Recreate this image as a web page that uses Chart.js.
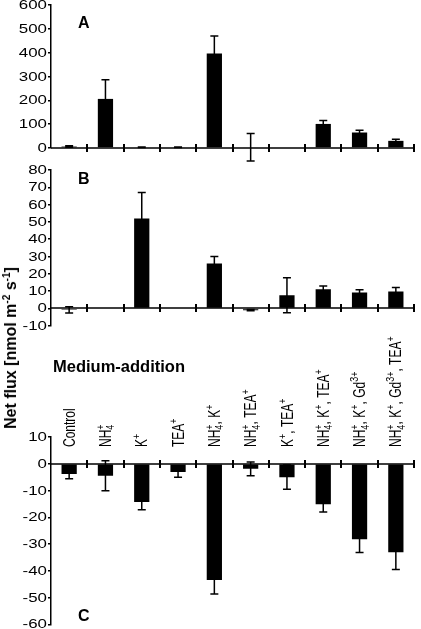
<!DOCTYPE html>
<html>
<head>
<meta charset="utf-8">
<script src="https://cdn.jsdelivr.net/npm/chart.js@4.4.1/dist/chart.umd.min.js"></script>
<style>
  html, body { margin: 0; padding: 0; background: #fff; overflow: hidden; }
  body { width: 421px; height: 629px; position: relative; font-family: "Liberation Sans", Arial, sans-serif; }
  canvas { position: absolute; left: 0; }
  .lbl { position: absolute; font-weight: bold; font-size: 16px; line-height: 16px; white-space: nowrap; color: #000; }
  .ytitle { left: 11px; top: 348px; transform: translate(-50%, -50%) rotate(-90deg); }
  .ytitle sup { font-size: 10px; vertical-align: 6px; line-height: 0; }
</style>
</head>
<body>
<canvas id="chartA" width="421" height="180" style="top:-10px"></canvas>
<canvas id="chartB" width="421" height="190" style="top:155px"></canvas>
<canvas id="chartC" width="421" height="310" style="top:330px"></canvas>

<div class="lbl" style="left:78px;top:15px">A</div>
<div class="lbl" style="left:78px;top:171px">B</div>
<div class="lbl" style="left:78px;top:608px">C</div>
<div class="lbl" style="left:53px;top:358px;font-size:16.5px">Medium-addition</div>
<div class="lbl ytitle">Net flux [nmol m<sup>-2</sup> s<sup>-1</sup>]</div>

<script>
// categories: "_x" = subscript, "^x" or "^{..}" = superscript
const categories = ['Control', 'NH_4^+', 'K^+', 'TEA^+', 'NH_4^+, K^+', 'NH_4^+, TEA^+',
  'K^+, TEA^+', 'NH_4^+, K^+, TEA^+', 'NH_4^+, K^+, Gd^{3+}', 'NH_4^+, K^+, Gd^{3+}, TEA^+'];

// panel A
const fluxA = [6, 206, 3, 3, 397, 3, 0, 101, 65, 30];
const errA = [3, 80, 1, 1, 73, 58, 0, 14, 10, 7];
const yAxisA = [0, 600, 100];   // min, max, step

// panel B
const fluxB = [-0.8, -0.5, 52, 0.4, 26, -1, 7.6, 11, 9.2, 9.8];
const errB = [1.8, 0, 15, 0, 4, 0.4, 10.1, 2, 1.6, 2.3];
const yAxisB = [-10, 80, 10];

// panel C
const fluxC = [-3.8, -4.5, -14.3, -3.1, -43.4, -1.9, -5.0, -15.1, -28.2, -33.1];
const errC = [1.8, 5.6, 2.9, 1.9, 5.3, 2.6, 4.5, 2.9, 5.0, 6.4];
const yAxisC = [-60, 10, 10];

const FONT = '"Liberation Sans", Arial, sans-serif';

function parseLabel(s) {
  const parts = [];
  const re = /_(\{[^}]*\}|.)|\^(\{[^}]*\}|.)|[^_^]+/g;
  let m;
  while ((m = re.exec(s))) {
    if (m[1]) parts.push({ text: m[1].replace(/[{}]/g, ''), kind: 'sub' });
    else if (m[2]) parts.push({ text: m[2].replace(/[{}]/g, ''), kind: 'sup' });
    else parts.push({ text: m[0], kind: 'n' });
  }
  return parts;
}

function drawRich(ctx, parts, size) {
  const small = Math.round(size * 0.72);
  const base = size * 0.36;
  let x = 0, subStart = null, subW = 0;
  parts.forEach(p => {
    if (p.kind === 'n') {
      ctx.font = `${size}px ${FONT}`;
      ctx.fillText(p.text, x, base);
      x += ctx.measureText(p.text).width;
      subStart = null;
    } else if (p.kind === 'sub') {
      ctx.font = `${small}px ${FONT}`;
      ctx.fillText(p.text, x, base + size * 0.22);
      subStart = x;
      subW = ctx.measureText(p.text).width;
      x += subW;
    } else {
      ctx.font = `${small}px ${FONT}`;
      const w = ctx.measureText(p.text).width;
      const sx = subStart !== null ? subStart : x;
      ctx.fillText(p.text, sx, base - size * 0.45);
      x = subStart !== null ? sx + Math.max(w, subW) : x + w;
      subStart = null;
    }
  });
}

// error bars, zero line with category ticks, y tick labels
const panelDecor = {
  id: 'panelDecor',
  afterDatasetsDraw(chart) {
    const { ctx, scales: { y } } = chart;
    const ds = chart.data.datasets[0];
    const meta = chart.getDatasetMeta(0);
    ctx.save();
    ctx.strokeStyle = '#000';
    ctx.lineWidth = 1.5;
    meta.data.forEach((bar, i) => {
      const e = ds.errors[i];
      if (!e) return;
      const v = ds.data[i];
      const yHi = y.getPixelForValue(v + e);
      const yLo = y.getPixelForValue(v - e);
      ctx.beginPath();
      ctx.moveTo(bar.x, yHi); ctx.lineTo(bar.x, yLo);
      ctx.moveTo(bar.x - 4, yHi); ctx.lineTo(bar.x + 4, yHi);
      ctx.moveTo(bar.x - 4, yLo); ctx.lineTo(bar.x + 4, yLo);
      ctx.stroke();
    });
    ctx.restore();
  },
  afterDraw(chart) {
    const { ctx, chartArea, scales: { x, y } } = chart;
    ctx.save();
    // zero line with tick marks between categories
    const y0 = Math.round(y.getPixelForValue(0));
    ctx.fillStyle = '#000';
    ctx.fillRect(chartArea.left, y0 - 0.75, chartArea.right - chartArea.left, 1.5);
    for (let i = 1; i <= categories.length; i++) {
      const xb = Math.round(x.getPixelForValue(i - 0.5));
      ctx.fillRect(xb - 1, y0 - 4, 2, 8);
    }
    // y tick labels
    ctx.font = `13px ${FONT}`;
    ctx.textAlign = 'right';
    ctx.textBaseline = 'middle';
    y.ticks.forEach(t => {
      ctx.save();
      ctx.translate(y.right - 4, y.getPixelForValue(t.value) + 0.5);
      ctx.scale(1.3, 1);
      ctx.fillText(String(t.value), 0, 0);
      ctx.restore();
    });
    ctx.restore();
  }
};

// rotated treatment names inside panel C
const mediumLabels = {
  id: 'mediumLabels',
  afterDraw(chart) {
    const { ctx, chartArea, scales: { x } } = chart;
    ctx.save();
    ctx.fillStyle = '#000';
    ctx.textAlign = 'left';
    ctx.textBaseline = 'alphabetic';
    categories.forEach((c, i) => {
      ctx.save();
      ctx.translate(x.getPixelForValue(i), chartArea.top + 10);
      ctx.rotate(-Math.PI / 2);
      ctx.scale(1, 1.3);
      drawRich(ctx, parseLabel(c), 12);
      ctx.restore();
    });
    ctx.restore();
  }
};

function makePanel(id, values, errors, yAxis, pad, extra) {
  return new Chart(document.getElementById(id), {
    type: 'bar',
    data: {
      labels: categories,
      datasets: [{
        data: values,
        errors: errors,
        backgroundColor: '#000',
        borderWidth: 0,
        barPercentage: 0.42,
        categoryPercentage: 1
      }]
    },
    options: {
      responsive: false,
      animation: false,
      layout: { padding: pad },
      plugins: { legend: { display: false }, tooltip: { enabled: false } },
      scales: {
        x: { display: false, offset: true },
        y: {
          min: yAxis[0],
          max: yAxis[1],
          ticks: { stepSize: yAxis[2], display: false },
          grid: { drawOnChartArea: false, tickLength: 3, color: '#000', lineWidth: 1.5 },
          border: { color: '#000', width: 1.5 },
          afterFit(scale) { scale.width = 51; }
        }
      }
    },
    plugins: [panelDecor].concat(extra || [])
  });
}

makePanel('chartA', fluxA, errA, yAxisA, { top: 15, bottom: 22, left: 0, right: 7 });
makePanel('chartB', fluxB, errB, yAxisB, { top: 15, bottom: 19.3, left: 0, right: 7 });
makePanel('chartC', fluxC, errC, yAxisC, { top: 107, bottom: 15.7, left: 0, right: 7 }, [mediumLabels]);
</script>
</body>
</html>
